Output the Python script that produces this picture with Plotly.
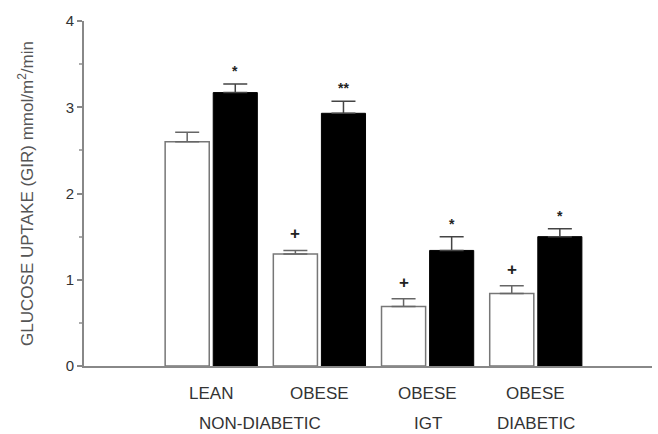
import plotly.graph_objects as go

# Glucose uptake (GIR) by group, basal (open) vs treated (filled)
groups = ["LEAN", "OBESE", "OBESE", "OBESE"]
subgroups = ["NON-DIABETIC", "IGT", "DIABETIC"]
subgroup_pos = [0.45, 2, 3]
open_vals = [2.60, 1.30, 0.69, 0.84]
open_err = [0.11, 0.04, 0.09, 0.09]
filled_vals = [3.17, 2.93, 1.34, 1.50]
filled_err = [0.10, 0.14, 0.16, 0.09]
open_marks = ["", "+", "+", "+"]
filled_marks = ["*", "**", "*", "*"]

x = list(range(len(groups)))
FONT = "Liberation Sans, Arial, sans-serif"
GREY = "#555555"

fig = go.Figure()
fig.add_trace(go.Bar(
    x=x, y=open_vals, name="open",
    marker=dict(color="white", line=dict(color="#777777", width=1.5)),
    error_y=dict(type="data", symmetric=False, array=open_err,
                 arrayminus=[0] * len(open_err), color="#666666",
                 thickness=1.5, width=12),
))
fig.add_trace(go.Bar(
    x=x, y=filled_vals, name="filled",
    marker=dict(color="black", line=dict(color="black", width=1)),
    error_y=dict(type="data", symmetric=False, array=filled_err,
                 arrayminus=[0] * len(filled_err), color="#444444",
                 thickness=1.5, width=12),
))

# significance symbols above the error bars
half = (1 - 0.111) / 4
for i in x:
    if open_marks[i]:
        fig.add_annotation(x=i - half, y=open_vals[i] + open_err[i],
                           text="<b>" + open_marks[i] + "</b>", showarrow=False,
                           yanchor="bottom", yshift=5,
                           font=dict(family=FONT, size=17, color="#222"))
    fig.add_annotation(x=i + half, y=filled_vals[i] + filled_err[i],
                       text="<b>" + filled_marks[i] + "</b>", showarrow=False,
                       yanchor="bottom", yshift=3,
                       font=dict(family=FONT, size=14, color="#222"))

# category labels (two rows)
for i, g in enumerate(groups):
    fig.add_annotation(x=i, y=0, yref="paper", text=g, showarrow=False,
                       yanchor="middle", yshift=-27,
                       font=dict(family=FONT, size=17, color="#333"))
for p, s in zip(subgroup_pos, subgroups):
    fig.add_annotation(x=p, y=0, yref="paper", text=s, showarrow=False,
                       yanchor="middle", yshift=-57,
                       font=dict(family=FONT, size=17, color="#333"))

fig.update_layout(
    width=658, height=434,
    margin=dict(l=84, r=6, t=21, b=68),
    paper_bgcolor="white", plot_bgcolor="white",
    barmode="group", bargap=0.111, bargroupgap=0.083,
    showlegend=False,
    font=dict(family=FONT, color="#333"),
)
fig.update_xaxes(
    range=[-1.176, 4.074], showticklabels=False, ticks="",
    showgrid=False, zeroline=False,
    showline=True, linecolor="#888888", linewidth=2,
)
fig.update_yaxes(
    range=[0, 4], tickvals=[0, 1, 2, 3, 4], ticks="outside", ticklen=5,
    tickcolor="#888888", tickwidth=1.5,
    minor=dict(dtick=0.5, ticks="outside", ticklen=3, tickcolor="#aaaaaa"),
    showgrid=False, zeroline=False,
    showline=True, linecolor="#888888", linewidth=2,
    tickfont=dict(family=FONT, size=15, color="#333"),
    title=dict(text="GLUCOSE UPTAKE (GIR) mmol/m<sup>2</sup>/min",
               font=dict(family=FONT, size=17, color=GREY), standoff=28),
)

fig.write_html("out.html")
